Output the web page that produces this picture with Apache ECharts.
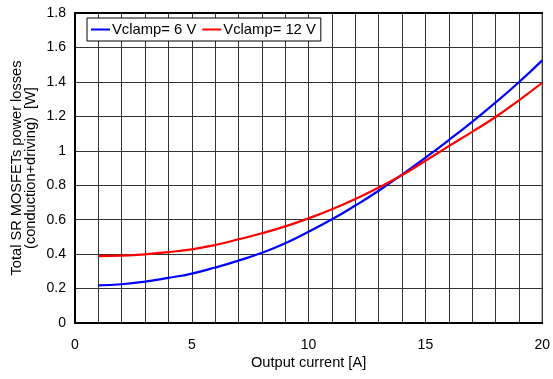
<!DOCTYPE html>
<html>
<head>
<meta charset="utf-8">
<script src="https://cdn.jsdelivr.net/npm/echarts@6/dist/echarts.min.js"></script>
<style>
  html, body { margin: 0; padding: 0; background: #fff; }
  #chart { width: 553px; height: 379px; }
</style>
</head>
<body>
<div id="chart"></div>
<script>
// Output current [A]
const current = [1, 2, 3, 4, 5, 6, 7, 8, 9, 10, 11, 12, 13, 14, 15, 16, 17, 18, 19, 20];
// Total SR MOSFET losses [W] at Vclamp = 6 V
const loss6V = [0.218, 0.225, 0.240, 0.262, 0.287, 0.322, 0.362, 0.408, 0.463, 0.530,
                0.602, 0.682, 0.768, 0.862, 0.960, 1.062, 1.168, 1.280, 1.398, 1.525];
// Total SR MOSFET losses [W] at Vclamp = 12 V
const loss12V = [0.388, 0.391, 0.399, 0.412, 0.428, 0.453, 0.486, 0.521, 0.561, 0.608,
                 0.660, 0.720, 0.787, 0.859, 0.942, 1.027, 1.110, 1.196, 1.293, 1.395];
const seriesNames = ['Vclamp= 6 V', 'Vclamp= 12 V'];
const xLabelStep = 5;

const FONT = 'Liberation Sans, Arial, Helvetica, sans-serif';
const pair = (ys) => current.map((x, i) => [x, ys[i]]);

const chart = echarts.init(document.getElementById('chart'), null, { renderer: 'canvas' });
chart.setOption({
  animation: false,
  backgroundColor: '#fff',
  textStyle: { fontFamily: FONT },
  grid: {
    left: 75, right: 8, top: 13, bottom: 56,
    show: true, borderColor: '#000', borderWidth: 1
  },
  legend: {
    left: 87, top: 18,
    orient: 'horizontal',
    backgroundColor: '#fff',
    borderColor: '#000', borderWidth: 1, borderRadius: 0,
    padding: [4, 5, 4, 4],
    itemGap: 6,
    itemWidth: 19, itemHeight: 2,
    icon: 'rect',
    textStyle: { fontFamily: FONT, fontSize: 14.8, color: '#000', padding: [0, 0, 0, -3] },
    data: seriesNames
  },
  xAxis: [{
    type: 'value', min: 0, max: 20, interval: 1,
    name: 'Output current [A]', nameLocation: 'middle', nameGap: 32,
    nameMoveOverlap: false,
    nameTextStyle: { fontFamily: FONT, fontSize: 14.6, color: '#000' },
    axisLine: { show: true, lineStyle: { color: '#000', width: 2 } },
    axisTick: { show: false },
    axisLabel: {
      color: '#000', fontFamily: FONT, fontSize: 14, margin: 15,
      formatter: (v) => (v % xLabelStep === 0 ? String(v) : '')
    },
    splitLine: { show: true, lineStyle: { color: '#333', width: 1 } }
  }, {
    type: 'value', min: 0, max: 20, position: 'top',
    axisLine: { show: true, lineStyle: { color: '#000', width: 2 } },
    axisTick: { show: false }, axisLabel: { show: false }, splitLine: { show: false }
  }],
  yAxis: {
    type: 'value', min: 0, max: 1.8, interval: 0.2,
    name: 'Total SR MOSFETs power losses\n(conduction+driving)  [W]',
    nameLocation: 'middle', nameGap: 37, nameRotate: 90,
    nameMoveOverlap: false,
    nameTextStyle: { fontFamily: FONT, fontSize: 14.6, color: '#000', lineHeight: 14 },
    axisLine: { show: true, lineStyle: { color: '#000', width: 2 } },
    axisTick: { show: false },
    axisLabel: { color: '#000', fontFamily: FONT, fontSize: 14, margin: 9 },
    splitLine: { show: true, lineStyle: { color: '#333', width: 1 } }
  },
  series: [{
    name: seriesNames[0], type: 'line', smooth: true, showSymbol: false,
    data: pair(loss6V), color: '#0000ff',
    lineStyle: { color: '#0000ff', width: 2.2 }
  }, {
    name: seriesNames[1], type: 'line', smooth: true, showSymbol: false,
    data: pair(loss12V), color: '#ff0000',
    lineStyle: { color: '#ff0000', width: 2.2 }
  }]
});
</script>
</body>
</html>
